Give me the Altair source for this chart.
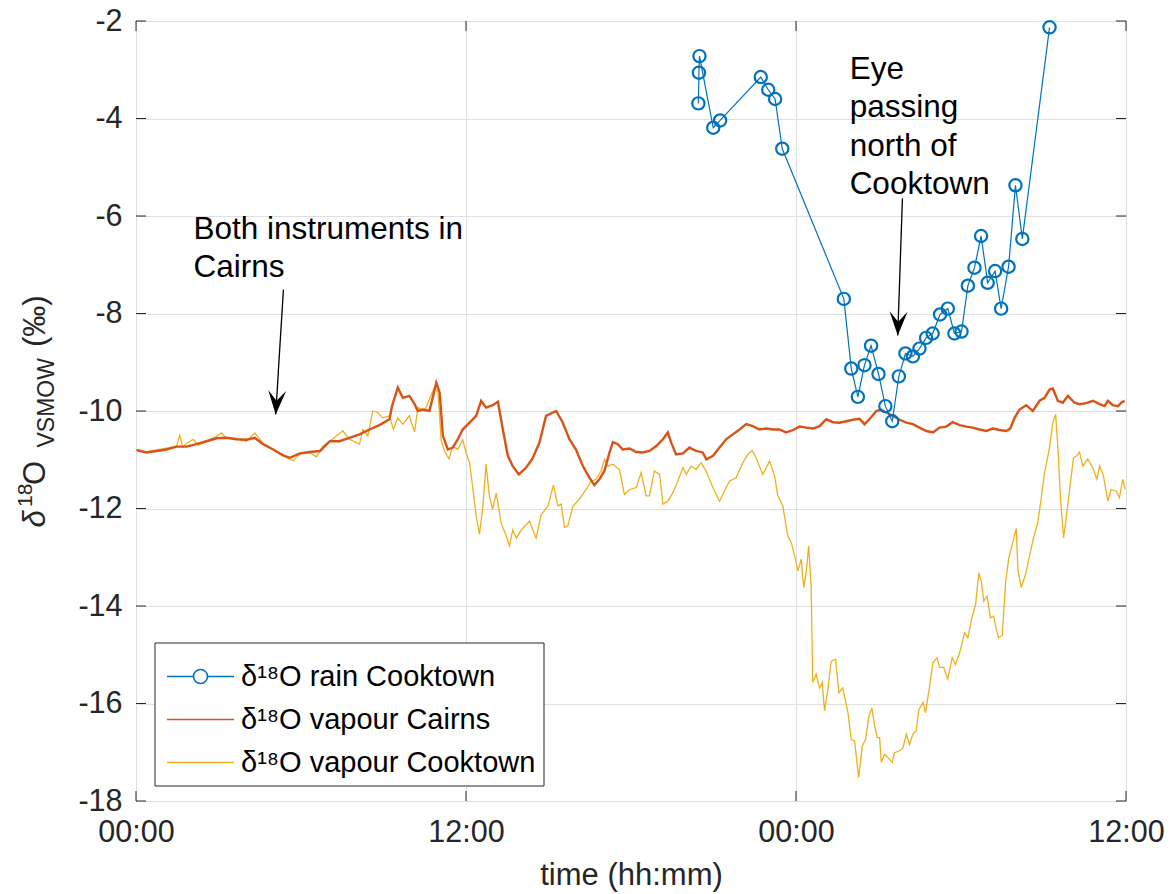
import math
import altair as alt
import pandas as pd

# ---- series labels -------------------------------------------------------
RAIN = "δ¹⁸O rain Cooktown"
CAIRNS = "δ¹⁸O vapour Cairns"
COOK = "δ¹⁸O vapour Cooktown"

# ---- rain samples at Cooktown (hours since start, permil) ----------------
rain_hours = [20.45, 20.47, 20.49, 20.99, 21.24, 22.72, 22.99, 23.24, 23.50,
              25.74, 26.01, 26.25, 26.49, 26.73, 27.00, 27.25, 27.50, 27.74,
              27.98, 28.25, 28.49, 28.73, 28.97, 29.24, 29.52, 29.76, 30.02,
              30.25, 30.49, 30.73, 30.97, 31.24, 31.46, 31.73, 31.98, 32.23,
              33.22]
rain_d18o = [-3.69, -3.06, -2.72, -4.19, -4.04, -3.15, -3.41, -3.60, -4.62,
             -7.70, -9.13, -9.71, -9.06, -8.66, -9.24, -9.90, -10.21, -9.29,
             -8.82, -8.88, -8.72, -8.50, -8.41, -8.02, -7.90, -8.41, -8.37,
             -7.43, -7.06, -6.41, -7.37, -7.13, -7.90, -7.04, -5.37, -6.47,
             -2.13]

# ---- vapour record, Cairns -----------------------------------------------
cairns_hours = [0.02, 0.38, 0.75, 1.11, 1.47, 1.84, 2.20, 2.56, 2.93, 3.29,
                3.65, 4.02, 4.32, 4.62, 4.99, 5.35, 5.60, 5.96, 6.32, 6.69,
                7.05, 7.40, 7.76, 8.13, 8.49, 8.85, 9.22, 9.31, 9.52, 9.70,
                9.94, 10.13, 10.25, 10.43, 10.67, 10.92, 11.04, 11.16, 11.34,
                11.52, 11.70, 11.88, 12.13, 12.37, 12.55, 12.73, 12.97, 13.16,
                13.34, 13.52, 13.70, 13.92, 14.19, 14.43, 14.67, 14.91, 15.16,
                15.28, 15.52, 15.76, 16.00, 16.25, 16.49, 16.67, 16.85, 17.03,
                17.22, 17.34, 17.52, 17.70, 17.95, 18.19, 18.43, 18.67, 18.92,
                19.16, 19.34, 19.46, 19.64, 19.89, 20.13, 20.37, 20.61, 20.74,
                20.98, 21.22, 21.46, 21.70, 21.95, 22.19, 22.43, 22.67, 22.92,
                23.16, 23.40, 23.64, 23.89, 24.13, 24.37, 24.61, 24.86, 25.10,
                25.34, 25.58, 25.83, 26.07, 26.31, 26.49, 26.67, 26.92, 27.10,
                27.28, 27.52, 27.77, 28.01, 28.25, 28.49, 28.74, 28.98, 29.22,
                29.46, 29.70, 29.95, 30.19, 30.43, 30.67, 30.92, 31.16, 31.40,
                31.64, 31.79, 31.95, 32.13, 32.37, 32.61, 32.86, 33.04, 33.22,
                33.34, 33.52, 33.70, 33.89, 34.13, 34.31, 34.55, 34.80, 35.04,
                35.22, 35.34, 35.52, 35.71, 35.83, 35.95]
cairns_d18o = [-10.80, -10.85, -10.82, -10.79, -10.73, -10.73, -10.68, -10.62,
               -10.56, -10.55, -10.58, -10.59, -10.55, -10.68, -10.79, -10.91,
               -10.96, -10.87, -10.84, -10.82, -10.62, -10.62, -10.55, -10.48,
               -10.38, -10.29, -10.17, -9.90, -9.52, -9.73, -9.69, -9.86,
               -10.00, -9.97, -10.00, -9.42, -9.62, -10.51, -10.79, -10.75,
               -10.58, -10.38, -10.24, -10.10, -9.79, -9.93, -9.88, -9.81,
               -10.38, -10.92, -11.13, -11.30, -11.16, -10.96, -10.65, -10.10,
               -10.03, -10.00, -10.24, -10.58, -10.79, -11.13, -11.37, -11.52,
               -11.40, -11.23, -10.85, -10.64, -10.68, -10.79, -10.77, -10.84,
               -10.85, -10.82, -10.72, -10.58, -10.44, -10.65, -10.89, -10.87,
               -10.75, -10.82, -10.85, -10.99, -10.92, -10.75, -10.58, -10.48,
               -10.38, -10.27, -10.31, -10.38, -10.36, -10.38, -10.38, -10.44,
               -10.39, -10.32, -10.34, -10.36, -10.31, -10.17, -10.23, -10.24,
               -10.21, -10.18, -10.16, -10.27, -10.17, -10.00, -9.97, -10.03,
               -10.10, -10.18, -10.24, -10.27, -10.34, -10.41, -10.44, -10.34,
               -10.32, -10.23, -10.29, -10.32, -10.34, -10.38, -10.41, -10.36,
               -10.39, -10.41, -10.36, -10.14, -9.97, -9.88, -10.00, -9.79,
               -9.73, -9.56, -9.54, -9.79, -9.83, -9.69, -9.83, -9.86, -9.84,
               -9.79, -9.86, -9.90, -9.79, -9.88, -9.90, -9.83, -9.79]

# ---- vapour record, Cooktown ---------------------------------------------
cook_hours = [0.02, 0.38, 0.75, 1.11, 1.47, 1.59, 1.70, 1.84, 2.08, 2.26,
              2.56, 2.93, 3.11, 3.29, 3.65, 4.02, 4.32, 4.62, 4.99, 5.35,
              5.72, 5.96, 6.32, 6.56, 6.80,
              7.04, 7.52, 7.76, 8.13, 8.25, 8.43, 8.61, 8.79, 8.97, 9.22,
              9.36, 9.52, 9.70, 9.94, 10.13, 10.25, 10.49, 10.67, 10.85, 10.98,
              11.10, 11.22, 11.38, 11.52, 11.70, 11.88, 12.00, 12.13, 12.27,
              12.37, 12.49, 12.61, 12.73, 12.85, 12.97, 13.10, 13.28, 13.46,
              13.58, 13.70, 13.83, 14.01, 14.31, 14.55, 14.73, 14.98,
              15.18, 15.34, 15.46, 15.58, 15.70, 15.89, 16.12, 16.37, 16.55,
              16.73, 16.91, 17.04, 17.16, 17.34, 17.58, 17.76, 17.95, 18.19,
              18.37, 18.55, 18.67, 18.85, 19.04, 19.16, 19.34, 19.52, 19.70,
              19.89, 20.01, 20.19, 20.37, 20.55, 20.73, 20.98, 21.22, 21.40,
              21.58, 21.82, 22.07, 22.25, 22.40, 22.55, 22.79, 23.04, 23.22,
              23.34, 23.52,
              23.70, 23.83, 23.95, 24.07, 24.19, 24.28, 24.37, 24.46, 24.55,
              24.61, 24.73, 24.86, 24.95, 25.04, 25.16, 25.28, 25.44, 25.56,
              25.70, 25.89, 26.01, 26.13, 26.28, 26.41, 26.53, 26.65, 26.76,
              26.86, 26.95, 27.04, 27.10, 27.22, 27.34, 27.50, 27.58, 27.77,
              27.89, 28.01, 28.13, 28.25, 28.37, 28.47, 28.62, 28.71, 28.86,
              28.98, 29.13, 29.22, 29.37, 29.52, 29.68, 29.80, 29.95, 30.13,
              30.25, 30.41, 30.53, 30.65, 30.74, 30.83, 30.95, 31.07, 31.19,
              31.28, 31.37, 31.50,
              31.62, 31.74, 31.88, 32.01, 32.07, 32.19, 32.35, 32.49, 32.64,
              32.79, 32.92, 33.04, 33.22, 33.34, 33.44, 33.52, 33.62, 33.73,
              33.82, 33.95, 34.09, 34.21, 34.31, 34.43, 34.61, 34.79, 34.94,
              35.04, 35.18, 35.34, 35.46, 35.64, 35.76, 35.88, 35.97]
cook_d18o = [-10.80, -10.84, -10.80, -10.76, -10.72, -10.50, -10.74, -10.66,
             -10.58, -10.70, -10.62, -10.52, -10.45, -10.56, -10.56, -10.62,
             -10.45, -10.66, -10.80, -10.92, -11.02, -10.88, -10.86, -10.94,
             -10.72,
             -10.62, -10.41, -10.58, -10.68, -10.38, -10.51, -10.00, -10.03,
             -10.14, -10.10, -10.38, -10.14, -10.27, -10.10, -10.43, -9.93,
             -10.00, -9.76, -9.52, -9.62, -10.62, -10.82, -10.98, -10.72,
             -10.79, -10.59, -10.85, -11.06, -11.68, -12.15, -12.53, -11.98,
             -11.09, -11.74, -12.02, -11.68, -12.30, -12.56, -12.77, -12.44,
             -12.61, -12.44, -12.26, -12.61, -12.13, -11.95,
             -11.52, -11.95, -11.91, -12.39, -12.36, -11.95, -11.81, -11.61,
             -11.44, -11.40, -11.23, -10.99, -11.13, -11.09, -11.20, -11.71,
             -11.61, -11.57, -11.26, -11.74, -11.74, -11.23, -11.30, -11.91,
             -11.85, -11.68, -11.44, -11.16, -11.30, -11.13, -11.20, -11.06,
             -11.23, -11.57, -11.85, -11.64, -11.44, -11.37, -11.06, -10.89,
             -10.81, -10.96, -11.30, -11.03, -11.33, -11.74, -11.95,
             -12.56, -12.70, -12.97, -13.28, -13.04, -13.62, -13.32, -12.77,
             -13.59, -15.57, -15.40, -15.68, -15.57, -16.15, -15.71, -15.13,
             -15.09, -15.78, -15.68, -16.19, -16.74, -16.77, -17.52, -16.87,
             -16.74, -16.26, -16.09, -16.46, -16.70, -16.70, -17.21, -17.04,
             -17.11, -17.21, -17.01, -16.97, -16.91, -16.63, -16.84, -16.63,
             -16.56, -16.12, -15.98, -16.19, -15.64, -15.16, -15.06, -15.26,
             -15.26, -15.50, -15.06, -15.20, -14.96, -14.55, -14.65, -14.21,
             -13.97, -13.32, -13.49, -13.90, -13.80, -14.24, -14.21, -14.48,
             -14.65, -14.60,
             -13.52, -13.01, -12.70, -12.41, -13.25, -13.62, -13.35, -12.97,
             -12.60, -12.29, -11.78, -11.26, -10.75, -10.24, -10.07, -10.72,
             -11.81, -12.60, -12.22, -11.61, -10.96, -10.92, -10.84, -11.13,
             -10.98, -11.16, -11.40, -11.13, -11.33, -11.85, -11.61, -11.64,
             -11.78, -11.40, -11.61]

# ---- axes ----------------------------------------------------------------
x_ticks = [0, 12, 24, 36]
y_ticks = [-18, -16, -14, -12, -10, -8, -6, -4, -2]

# ---- annotations ---------------------------------------------------------
note_text = ["Both instruments in", "Cairns", "Eye", "passing", "north of", "Cooktown"]
note_hours = [2.09, 2.09, 25.95, 25.95, 25.95, 25.95]
note_d18o = [-6.47, -7.26, -3.18, -3.97, -4.76, -5.55]

arrow_from_hours = [5.36, 27.87]
arrow_from_d18o = [-7.51, -5.64]
arrow_to_hours = [5.08, 27.70]
arrow_to_d18o = [-10.07, -8.45]

# ---- layout --------------------------------------------------------------
W, H = 990, 780
X_DOM, Y_DOM = [0, 36], [-18, -2]
AX = "#262626"
FONT = "Liberation Sans"
BLUE, ORANGE, YELLOW = "#0072BD", "#D95319", "#EDB120"
SERIES = [RAIN, CAIRNS, COOK]

rain = pd.DataFrame({"h": rain_hours, "v": rain_d18o, "series": RAIN})
cairns = pd.DataFrame({"h": cairns_hours, "v": cairns_d18o, "series": CAIRNS})
cook = pd.DataFrame({"h": cook_hours, "v": cook_d18o, "series": COOK})
notes = pd.DataFrame({"h": note_hours, "v": note_d18o, "t": note_text})

px_per_h = W / (X_DOM[1] - X_DOM[0])
px_per_v = H / (Y_DOM[1] - Y_DOM[0])
arrows = pd.DataFrame({"h": arrow_to_hours, "v": arrow_to_d18o,
                       "h0": arrow_from_hours, "v0": arrow_from_d18o})
arrows["tilt"] = [
    math.degrees(math.atan2(-(h1 - h0) * px_per_h, (v0 - v1) * px_per_v))
    for h0, v0, h1, v1 in zip(arrows.h0, arrows.v0, arrows.h, arrows.v)
]

xs = alt.Scale(domain=X_DOM, nice=False, zero=False)
ys = alt.Scale(domain=Y_DOM, nice=False, zero=False)

x_enc = alt.X("h:Q", scale=xs, axis=alt.Axis(
    values=x_ticks, title="time (hh:mm)",
    labelExpr="datum.value % 24 == 0 ? '00:00' : '12:00'",
    labelFlush=False, labelOverlap=False, labelPadding=16,
    titlePadding=13, titleFontSize=31))
y_enc = alt.Y("v:Q", scale=ys, axis=alt.Axis(
    values=y_ticks, title=None, labelExpr="'' + datum.value",
    labelFlush=False, labelOverlap=False, labelPadding=14))

# legend symbols: a 67 px line, with a ring for the rain samples
# (path units are 7 px for symbolSize 196)
LINE = "M-4.79,0L4.79,0"
LINE_RING = ("M-4.79,0L-1,0M1,0L4.79,0"
             "M-1,0A1,1,0,1,0,1,0A1,1,0,1,0,-1,0")
# a blank one-pixel title leaves a little extra room above the first row
legend = alt.Legend(
    title=" ", titleFontSize=1, titlePadding=10.5,
    orient="none", legendX=18.5, legendY=621.5,
    strokeColor=AX, fillColor="white", padding=8,
    labelFont=FONT, labelFontSize=29, labelColor="black", labelLimit=0,
    symbolSize=196, symbolStrokeWidth=1.6, symbolFillColor="transparent",
    symbolOffset=23.5, labelOffset=26, rowPadding=13)
color = alt.Color("series:N", legend=legend,
                  scale=alt.Scale(domain=SERIES, range=[BLUE, ORANGE, YELLOW]))
shape = alt.Shape("series:N", legend=legend,
                  scale=alt.Scale(domain=SERIES, range=[LINE_RING, LINE, LINE]))

cook_line = alt.Chart(cook).mark_line(strokeWidth=1.3).encode(x=x_enc, y=y_enc, color=color)
cairns_line = alt.Chart(cairns).mark_line(strokeWidth=2.4).encode(x=x_enc, y=y_enc, color=color)
rain_line = alt.Chart(rain).mark_line(strokeWidth=1.2).encode(x=x_enc, y=y_enc, color=color)
rain_pts = alt.Chart(rain).mark_point(filled=False, size=150, strokeWidth=2.2, opacity=1).encode(
    x=x_enc, y=y_enc, color=alt.value(BLUE))
# carries the legend's symbol shapes; draws nothing itself
key_layer = alt.Chart(pd.DataFrame({"h": [], "v": [], "series": []})).mark_point(
    filled=False, opacity=1).encode(x=x_enc, y=y_enc, color=color, shape=shape)

note_marks = alt.Chart(notes).mark_text(
    align="left", baseline="alphabetic", font=FONT, fontSize=31.5, color="black"
).encode(x=x_enc, y=y_enc, text="t:N")

shafts = alt.Chart(arrows).mark_rule(color="black", strokeWidth=1.3).encode(
    x=alt.X("h0:Q", scale=xs), y=alt.Y("v0:Q", scale=ys), x2="h", y2="v")
HEAD = "M0,0L-0.75,-2L0,-1.15L0.75,-2Z"
heads = alt.Chart(arrows).mark_point(
    shape=HEAD, filled=True, color="black", size=576, opacity=1
).encode(x=x_enc, y=y_enc, angle=alt.Angle("tilt:Q", scale=None))

# inward ticks on all four sides of the frame
xt = pd.DataFrame({"h": x_ticks})
yt = pd.DataFrame({"v": y_ticks})
tick_style = dict(color=AX, strokeWidth=1)
ticks = [
    alt.Chart(xt).mark_rule(**tick_style).encode(x=x_enc, y=alt.value(H), y2=alt.value(H - 10)),
    alt.Chart(xt).mark_rule(**tick_style).encode(x=x_enc, y=alt.value(0), y2=alt.value(10)),
    alt.Chart(yt).mark_rule(**tick_style).encode(y=y_enc, x=alt.value(0), x2=alt.value(10)),
    alt.Chart(yt).mark_rule(**tick_style).encode(y=y_enc, x=alt.value(W), x2=alt.value(W - 10)),
]

# y-axis title: δ¹⁸O with VSMOW subscript, then (‰)
one = alt.Data(values=[{}])
def title_part(text, x, y, size, style="normal"):
    return alt.Chart(one).mark_text(
        angle=270, align="left", baseline="alphabetic", font=FONT,
        fontSize=size, fontStyle=style, color=AX
    ).encode(x=alt.value(x), y=alt.value(y), text=alt.value(text))

ytitle = [
    title_part("δ", -91, 506.5, 31, "italic"),
    title_part("18", -104, 486, 21),
    title_part("O", -91, 464, 31),
    title_part("VSMOW", -82, 426.5, 23),
    title_part("(‰)", -91, 326, 31),
]

chart = alt.layer(
    cook_line, cairns_line, rain_line, rain_pts, key_layer, shafts, heads, note_marks,
    *ticks, *ytitle
).properties(
    width=W, height=H,
    autosize=alt.AutoSizeParams(type="none"),
    padding={"left": 136, "top": 21, "right": 47, "bottom": 93},
    background="white",
).configure_view(
    stroke=AX, strokeWidth=1
).configure_axis(
    grid=True, gridColor="#dfdfdf", gridWidth=1, domain=False, ticks=False,
    labelFont=FONT, labelFontSize=30.5, labelColor=AX,
    titleFont=FONT, titleFontWeight="normal", titleColor=AX,
)

chart.save("out.html", embed_options={"renderer": "svg", "actions": False})
